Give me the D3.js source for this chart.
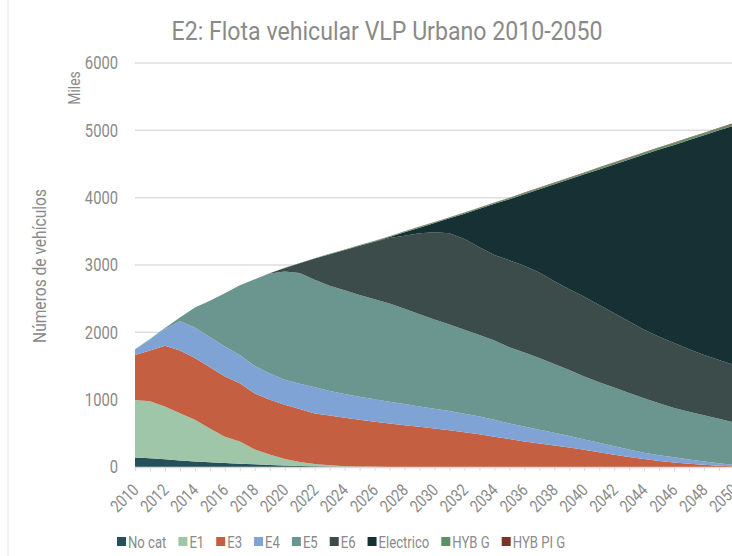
<!DOCTYPE html>
<html>
<head>
<meta charset="utf-8">
<script src="https://cdn.jsdelivr.net/npm/d3@7"></script>
<style>
  body { margin: 0; background: #fff; }
  svg text { font-family: Roboto, "DejaVu Sans", sans-serif; fill: #8a8a8a; }
</style>
</head>
<body>
<div id="chart"></div>
<script>
let years = d3.range(2010, 2051);
let seriesNames = ["No cat", "E1", "E3", "E4", "E5", "E6", "Electrico", "HYB G", "HYB PI G"];
let seriesColors = ["#25505a", "#9fc6a9", "#c55f42", "#7fa3d5", "#6b968f", "#3c4c4b", "#163034", "#5c9069", "#7c3426"];

// miles de vehiculos por año 2010..2050
let noCat = [140,130,115,95,80,70,58,50,40,30,22,15,10,6,3,2,1,0,0,0,0,0,0,0,0,0,0,0,0,0,0,0,0,0,0,0,0,0,0,0,0];
let e1 = [855,845,785,705,620,500,392,330,220,155,98,60,35,19,9,4,2,1,0,0,0,0,0,0,0,0,0,0,0,0,0,0,0,0,0,0,0,0,0,0,0];
let e3 = [668,755,900,930,920,910,895,865,830,815,805,785,750,740,718,694,669,644,620,598,570,545,515,485,450,415,380,350,320,288,255,218,182,148,117,90,66,47,32,20,10];
let e4 = [82,165,250,435,450,450,445,420,410,390,370,375,390,365,355,345,333,325,315,302,295,285,275,265,250,230,220,205,190,174,155,142,128,112,96,85,78,63,48,35,20];
let e5 = [5,5,15,55,300,540,790,1035,1290,1485,1610,1645,1595,1560,1540,1510,1485,1460,1415,1370,1325,1285,1250,1210,1180,1135,1100,1065,1020,978,935,900,870,840,807,770,731,710,690,660,630];
let e6 = [0,0,0,0,0,0,0,0,0,2,50,145,315,470,597,730,855,970,1085,1200,1295,1355,1345,1305,1270,1290,1290,1270,1230,1200,1185,1145,1105,1060,1020,990,965,930,895,875,855];
let electrico = [0,0,0,0,0,0,0,0,0,0,0,0,0,0,0,2,5,15,51,85,139,223,376,570,759,907,1061,1235,1438,1632,1816,2015,2208,2407,2601,2780,2944,3108,3262,3411,3555];
let hybG = [0,0,0,0,0,0,0,0,0,0,3,4,5,6,7,8,9,10,11,12,12,13,14,15,16,17,18,19,20,21,22,23,24,25,26,27,27,28,29,30,31];
let hybPiG = [0,0,0,0,0,0,0,0,0,0,1,1,2,2,2,3,3,3,3,3,4,4,5,5,5,6,6,6,7,7,7,7,8,8,8,8,9,9,9,9,9];
let yTicks = [0, 1000, 2000, 3000, 4000, 5000, 6000];

let drawChart = function() {
    let W = 732, H = 556;
    let left = 135, right = 734, top = 63, bottom = 467;
    let narrow = 0.82;   // font of the original is a condensed one

    let svg = d3.select("#chart")
      .append("svg")
        .attr("width", W)
        .attr("height", H);

    let allSeries = [noCat, e1, e3, e4, e5, e6, electrico, hybG, hybPiG];
    let rows = years.map(function(y, i) {
        let r = { year: y };
        seriesNames.forEach(function(n, k) { r[n] = allSeries[k][i]; });
        return r;
    });

    let x = d3.scaleLinear().domain([2010, 2050]).range([left, right]);
    let y = d3.scaleLinear().domain([0, 6000]).range([bottom, top]);
    let color = d3.scaleOrdinal().domain(seriesNames).range(seriesColors);

    // left border line of chart area
    svg.append("line")
        .attr("x1", 8).attr("x2", 8).attr("y1", 0).attr("y2", H)
        .attr("stroke", "#e6e6e6");

    // gridlines
    svg.append("g")
        .selectAll("line")
        .data(yTicks.filter(function(d) { return d > 0; }))
      .enter().append("line")
        .attr("x1", left).attr("x2", W)
        .attr("y1", function(d) { return y(d); })
        .attr("y2", function(d) { return y(d); })
        .attr("stroke", "#dedede")
        .attr("stroke-width", 1.5);

    let stack = d3.stack().keys(seriesNames);
    let layers = stack(rows);

    let area = d3.area()
        .x(function(d) { return x(d.data.year); })
        .y0(function(d) { return y(d[0]); })
        .y1(function(d) { return y(d[1]); });

    svg.append("g")
        .selectAll("path")
        .data(layers)
      .enter().append("path")
        .attr("d", area)
        .attr("fill", function(d) { return color(d.key); });

    // x axis
    let xAxis = svg.append("g")
        .attr("transform", "translate(0," + bottom + ")")
        .call(d3.axisBottom(x)
            .tickValues(years)
            .tickSize(4)
            .tickFormat(function(d) { return d % 2 === 0 ? d : ""; }));
    xAxis.select(".domain").attr("stroke", "#d9d9d9").attr("stroke-width", 1.5);
    xAxis.selectAll(".tick line").attr("stroke", "#d9d9d9");
    xAxis.selectAll(".tick text")
        .attr("font-size", 17)
        .attr("fill", "#8a8a8a")
        .attr("text-anchor", "end")
        .attr("x", 0)
        .attr("y", 0)
        .attr("dx", 0)
        .attr("dy", "0.35em")
        .attr("transform", "translate(0,20) rotate(-45) scale(" + narrow + ",1)");

    // y axis
    let yAxis = svg.append("g")
        .attr("transform", "translate(" + (left - 17) + ",0)")
        .call(d3.axisLeft(y).tickValues(yTicks).tickSize(0).tickFormat(d3.format("d")));
    yAxis.select(".domain").remove();
    yAxis.selectAll(".tick text")
        .attr("font-size", 18)
        .attr("fill", "#8a8a8a")
        .attr("x", 0)
        .attr("transform", "scale(" + narrow + ",1)");

    // title
    svg.append("text")
        .attr("x", 387)
        .attr("y", 40)
        .attr("text-anchor", "middle")
        .attr("font-size", 25)
        .attr("fill", "#7f7f7f")
        .attr("textLength", 431)
        .attr("lengthAdjust", "spacingAndGlyphs")
        .text("E2: Flota vehicular VLP Urbano 2010-2050");

    svg.append("text")
        .attr("transform", "translate(80,88) rotate(-90) scale(" + narrow + ",1)")
        .attr("text-anchor", "middle")
        .attr("font-size", 17)
        .text("Miles");

    svg.append("text")
        .attr("transform", "translate(46,266) rotate(-90) scale(" + narrow + ",1)")
        .attr("text-anchor", "middle")
        .attr("font-size", 19)
        .text("Números de vehículos");

    // legend
    let legend = svg.append("g").attr("transform", "translate(117,542)");
    let lx = 0;
    seriesNames.forEach(function(n) {
        let g = legend.append("g").attr("transform", "translate(" + lx + ",0)");
        g.append("rect")
            .attr("x", 0).attr("y", -5)
            .attr("width", 9).attr("height", 9)
            .attr("fill", color(n));
        let t = g.append("text")
            .attr("transform", "translate(11,0) scale(" + narrow + ",1)")
            .attr("dy", "0.36em")
            .attr("font-size", 16)
            .text(n);
        lx += 11 + t.node().getComputedTextLength() * narrow + 12;
    });
};

drawChart();
</script>
</body>
</html>
